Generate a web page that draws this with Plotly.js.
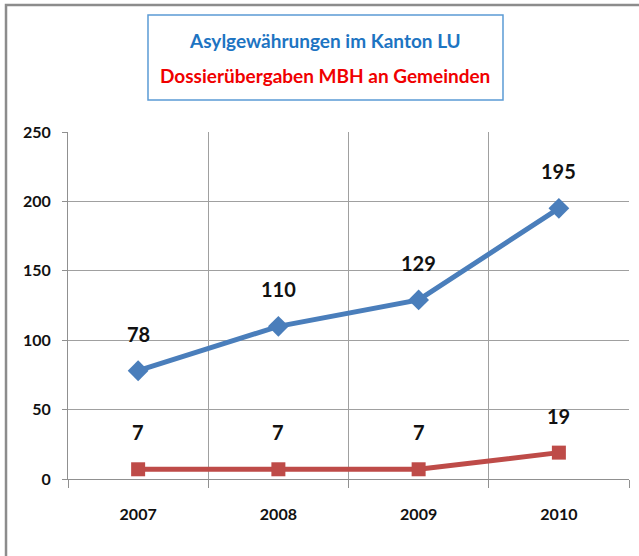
<!DOCTYPE html>
<html>
<head>
<meta charset="utf-8">
<script src="https://cdn.plot.ly/plotly-3.0.1.min.js"></script>
<style>html,body{margin:0;padding:0;background:#fff;}#chart{width:639px;height:556px;}</style>
</head>
<body>
<div id="chart"></div>
<script>
const years = ["2007", "2008", "2009", "2010"];
const asyl = [78, 110, 129, 195];
const dossier = [7, 7, 7, 19];
const titleLine1 = "Asylgewährungen im Kanton LU";
const titleLine2 = "Dossierübergaben MBH an Gemeinden";

const FONT = "Lato, sans-serif";
const blue = "#4A7EBB";
const red = "#BE4B48";

const xs = years.map((_, i) => i);
const bounds = years.map((_, i) => i - 0.5).concat([years.length - 0.5]);

const traces = [
  {x: xs, y: asyl, type: "scatter", mode: "lines+markers",
   line: {color: blue, width: 5}, marker: {symbol: "diamond", size: 16, color: blue}},
  {x: xs, y: dossier, type: "scatter", mode: "lines+markers",
   line: {color: red, width: 5}, marker: {symbol: "square", size: 14, color: red}}
];

const annotations = [];
[asyl, dossier].forEach(series => {
  series.forEach((v, i) => {
    annotations.push({x: xs[i], y: v, xref: "x", yref: "y", text: String(v),
      xanchor: "center", yanchor: "middle",
      showarrow: false, yshift: 37, font: {family: FONT, size: 20, weight: "bold", color: "#111"}});
  });
});
annotations.push({xref: "paper", yref: "paper", x: 0.459, y: 1.265, text: titleLine1,
  xanchor: "center", yanchor: "middle",
  showarrow: false, font: {family: FONT, size: 19, weight: "bold", color: "#1D74C2"}});
annotations.push({xref: "paper", yref: "paper", x: 0.459, y: 1.164, text: titleLine2,
  xanchor: "center", yanchor: "middle",
  showarrow: false, font: {family: FONT, size: 19, weight: "bold", color: "#F00000"}});

const layout = {
  width: 639, height: 556,
  margin: {l: 68, r: 10, t: 132, b: 77},
  paper_bgcolor: "#fff", plot_bgcolor: "#fff",
  showlegend: false,
  xaxis: {type: "linear", range: [-0.5, years.length - 0.5], tickmode: "array", tickvals: xs, ticktext: years,
    showgrid: false, ticks: "",
    minor: {tickmode: "array", tickvals: bounds, showgrid: true, gridcolor: "#A0A0A0", gridwidth: 1,
      ticks: "outside", ticklen: 8, tickcolor: "#909090"},
    showline: true, linecolor: "#909090", linewidth: 1,
    tickfont: {family: FONT, size: 16, weight: "bold", color: "#111"}, ticklabelstandoff: 21, fixedrange: true, zeroline: false},
  yaxis: {range: [0, 250], dtick: 50, showgrid: true, gridcolor: "#A0A0A0", gridwidth: 1,
    showline: true, linecolor: "#909090", linewidth: 1, ticks: "outside", ticklen: 5, tickcolor: "#909090",
    tickfont: {family: FONT, size: 16, weight: "bold", color: "#111"}, zeroline: false, ticklabelstandoff: 8},
  shapes: [
    {type: "rect", xref: "paper", yref: "paper", x0: 0.1426, x1: 0.7754, y0: 1.092, y1: 1.337,
     line: {color: "#5B9BD5", width: 1.5}, fillcolor: "rgba(0,0,0,0)"},
    {type: "rect", xref: "paper", yref: "paper", x0: -0.1105, x1: 1.2, y0: -0.5, y1: 1.366,
     line: {color: "#8C8C8C", width: 2.5}, fillcolor: "rgba(0,0,0,0)"}
  ],
  annotations: annotations
};

Plotly.newPlot("chart", traces, layout, {displayModeBar: false, staticPlot: true});
</script>
</body>
</html>
